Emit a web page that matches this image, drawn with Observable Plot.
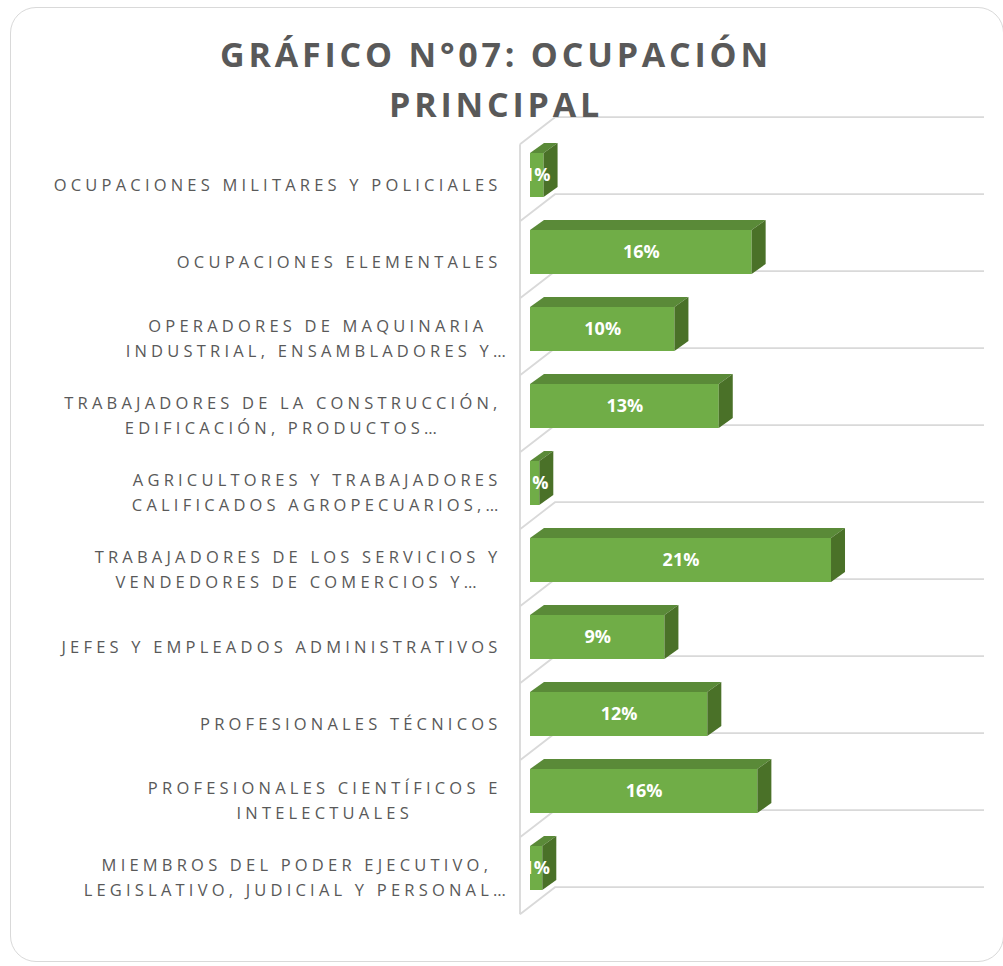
<!DOCTYPE html>
<html>
<head>
<meta charset="utf-8">
<script src="https://cdn.jsdelivr.net/npm/d3@7"></script>
<script src="https://cdn.jsdelivr.net/npm/@observablehq/plot@0.6"></script>
<style>
  html, body { margin: 0; padding: 0; background: #fff; }
  #wrap { position: relative; width: 1003px; height: 966px; overflow: hidden; }
  #card { position: absolute; left: 10px; top: 7px; width: 994px; height: 955px;
          border: 1.5px solid #d9d9d9; border-radius: 26px; box-sizing: border-box; }
  #title { position: absolute; left: 0; top: 29px; width: 992px; text-align: center;
           font-family: "Open Sans", sans-serif; font-weight: 700; font-size: 34px;
           letter-spacing: 3.8px; line-height: 50px; color: #595959; z-index: 2; }
  #chart { position: absolute; left: 0; top: 0; z-index: 1; }
  text[aria-label="category-labels"] { letter-spacing: 4.2px; }
</style>
</head>
<body>
<div id="wrap">
  <div id="card"></div>
  <div id="chart"></div>
  <div id="title">GRÁFICO N°07: OCUPACIÓN<br>PRINCIPAL</div>
</div>
<script>
const categories = [
  "OCUPACIONES MILITARES Y POLICIALES",
  "OCUPACIONES ELEMENTALES",
  "OPERADORES DE MAQUINARIA\nINDUSTRIAL, ENSAMBLADORES Y…",
  "TRABAJADORES DE LA CONSTRUCCIÓN,\nEDIFICACIÓN, PRODUCTOS…",
  "AGRICULTORES Y TRABAJADORES\nCALIFICADOS AGROPECUARIOS,…",
  "TRABAJADORES DE LOS SERVICIOS Y\nVENDEDORES DE COMERCIOS Y…",
  "JEFES Y EMPLEADOS ADMINISTRATIVOS",
  "PROFESIONALES TÉCNICOS",
  "PROFESIONALES CIENTÍFICOS E\nINTELECTUALES",
  "MIEMBROS DEL PODER EJECUTIVO,\nLEGISLATIVO, JUDICIAL Y PERSONAL…"
];
const values = [0.95, 15.5, 10.1, 13.2, 0.65, 21.05, 9.4, 12.4, 15.9, 0.86];

const data = categories.map((c, i) => ({category: c, value: values[i]}));

// styling constants
const FRONT = "#70ad47", TOP = "#5a8a38", SIDE = "#4a7128", GRID = "#d9d9d9";
const BAR_DX = 14, BAR_DY = -10;        // bar depth
const WALL_FRONT = [-10, 7.7];          // front wall plane offset from bar plane
const WALL_BACK = [25, -19.3];          // back wall plane offset from bar plane
const LABEL_DX = -33;

function bw(s) { return typeof s.bandwidth === "function" ? s.bandwidth() : s.bandwidth; }

function bandBounds(y) {
  const b = bw(y);
  const step = y(categories[1]) - y(categories[0]);
  const gap = (step - b) / 2;
  const bounds = categories.map(c => y(c) - gap);
  bounds.push(y(categories[categories.length - 1]) + b + gap);
  return bounds;
}

const gridMark = (index, scales) => {
  const {x, y} = scales;
  const g = d3.create("svg:g").attr("fill", "none").attr("stroke", GRID).attr("stroke-width", 1.8);
  const bounds = bandBounds(y);
  const x0 = x(0), xEnd = x(d3.max(x.domain()));
  g.append("line")
    .attr("x1", x0 + WALL_FRONT[0]).attr("x2", x0 + WALL_FRONT[0])
    .attr("y1", bounds[0] + WALL_FRONT[1]).attr("y2", bounds[bounds.length - 1] + WALL_FRONT[1]);
  for (const yb of bounds) {
    g.append("path").attr("d",
      `M${x0 + WALL_FRONT[0]},${yb + WALL_FRONT[1]}L${x0 + WALL_BACK[0]},${yb + WALL_BACK[1]}L${xEnd + WALL_BACK[0]},${yb + WALL_BACK[1]}`);
  }
  return g.node();
};

const facesMark = (index, scales) => {
  const {x, y} = scales;
  const b = bw(y);
  const g = d3.create("svg:g");
  for (const d of data) {
    const x0 = x(0), x1 = x(d.value), yt = y(d.category), yb = yt + b;
    g.append("path").attr("fill", TOP)
      .attr("d", `M${x0},${yt}L${x1},${yt}L${x1 + BAR_DX},${yt + BAR_DY}L${x0 + BAR_DX},${yt + BAR_DY}Z`);
    g.append("path").attr("fill", SIDE)
      .attr("d", `M${x1},${yt}L${x1 + BAR_DX},${yt + BAR_DY}L${x1 + BAR_DX},${yb + BAR_DY}L${x1},${yb}Z`);
  }
  return g.node();
};

const plot = Plot.plot({
  width: 1003,
  height: 966,
  marginLeft: 530,
  marginRight: 44,
  marginTop: 133,
  marginBottom: 56,
  style: {background: "transparent", fontFamily: "'Open Sans', sans-serif"},
  x: {domain: [0, 30], axis: null},
  y: {domain: categories, paddingInner: 0.434, paddingOuter: 0.217, axis: null},
  marks: [
    gridMark,
    Plot.barX(data, {x: "value", y: "category", fill: FRONT, inset: 0}),
    facesMark,
    Plot.text(data, {
      y: "category", text: "category", frameAnchor: "left", dx: LABEL_DX, dy: 7,
      textAnchor: "middle", lineHeight: 1.53, fontSize: 16.5, fill: "#595959",
      ariaLabel: () => "category-labels"
    }),
    Plot.text(data, {
      x: d => d.value / 2, y: "category", text: d => Math.round(d.value) + "%",
      fill: "white", fontWeight: "bold", fontSize: 18
    })
  ]
});

document.getElementById("chart").appendChild(plot);

// Center lines within each label block; right-align the block (ellipses may overflow)
const RIGHT = 497 + 4 - LABEL_DX;  // trailing letter-spacing + group dx offset
const labels = plot.querySelectorAll('text[aria-label="category-labels"]');
let ellW = 0;
if (labels.length) {
  const tmp = labels[0].cloneNode(false);
  tmp.textContent = "…";
  labels[0].parentNode.appendChild(tmp);
  ellW = tmp.getComputedTextLength();
  tmp.remove();
}
labels.forEach(t => {
  const tspans = t.querySelectorAll("tspan");
  const lines = tspans.length ? Array.from(tspans) : [t];
  let maxW = 0;
  for (const ln of lines) {
    let w = ln.getComputedTextLength();
    if (ln.textContent.endsWith("…")) w -= ellW;
    maxW = Math.max(maxW, w);
  }
  const list = t.transform.baseVal;
  const m = list.numberOfItems ? list.consolidate().matrix : {e: 0, f: 0};
  const ty = m.f;
  // text-anchor middle: center x so that widest (non-ellipsis) line ends at RIGHT
  const cx = RIGHT - maxW / 2;
  t.setAttribute("transform", `translate(${cx},${ty})`);
});
</script>
</body>
</html>
